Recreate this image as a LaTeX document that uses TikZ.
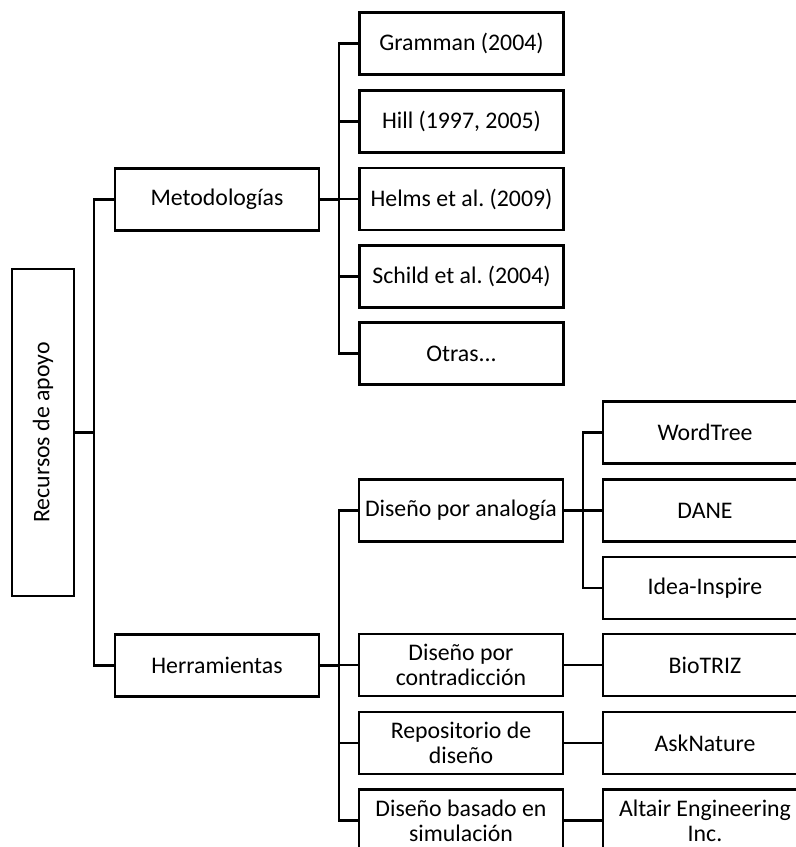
\documentclass[tikz,border=0pt]{standalone}
\usepackage{fontspec}
\usepackage{graphicx}
\setmainfont{Carlito}
\frenchspacing
\begin{document}
\begin{tikzpicture}[x=0.5pt,y=-0.5pt,
  box/.style={draw=black, line width=1.45pt, inner sep=0pt, align=center,
    font=\fontsize{11.9}{12.6}\selectfont, text=black, fill=white},
  wbox/.style={box, minimum width=102pt, minimum height=31pt},
  conn/.style={draw=black, line width=1.45pt}]
\path[use as bounding box] (0,0) rectangle (796,847);
\clip (0,0) rectangle (796,847);
% level 0
\node[box, minimum width=31pt, minimum height=163.5pt] (root) at (43,432.5) {\rotatebox{90}{Recursos de apoyo}};
% level 1
\node[wbox] (meto) at (217,199.5) {Metodologías};
\node[wbox] (herr) at (217,665.5) {Herramientas};
% methodologies
\node[wbox] (gramman) at (461.5,43.5) {Gramman (2004)};
\node[wbox] (hill) at (461.5,121.5) {Hill (1997, 2005)};
\node[wbox] (helms) at (461.5,199) {Helms et al. (2009)};
\node[wbox] (schild) at (461.5,276.5) {Schild et al. (2004)};
\node[wbox] (otras) at (461.5,353.5) {Otras...};
% tools
\node[wbox] (analog) at (461,510.5) {Diseño por analogía};
\node[wbox] (contra) at (461,665) {Diseño por\\contradicción};
\node[wbox] (repo) at (461,743) {Repositorio de\\diseño};
\node[wbox] (sim) at (461,820.5) {Diseño basado en\\simulación};
% right column
\node[wbox] (wordtree) at (705,432.5) {WordTree};
\node[wbox] (dane) at (705,510.5) {DANE};
\node[wbox] (idea) at (705,588) {Idea-Inspire};
\node[wbox] (biotriz) at (705,665) {BioTRIZ};
\node[wbox] (ask) at (705,743) {AskNature};
\node[wbox] (altair) at (705,820.5) {Altair Engineering\\Inc.};
% trunks
\coordinate (t1) at (94,432.5);
\coordinate (t2) at (339,199.5);
\coordinate (t3) at (339,665.5);
\coordinate (t4) at (583,510.5);
\draw[conn] (root.east) -- (t1);
\draw[conn] (meto.west) -| (t1) |- (herr.west);
\draw[conn] (meto.east) -- (t2);
\foreach \n in {gramman,hill,helms,schild,otras} \draw[conn] (t2) |- (\n.west);
\draw[conn] (herr.east) -- (t3);
\foreach \n in {analog,contra,repo,sim} \draw[conn] (t3) |- (\n.west);
\draw[conn] (analog.east) -- (t4);
\foreach \n in {wordtree,dane,idea} \draw[conn] (t4) |- (\n.west);
\draw[conn] (contra.east) -- (biotriz.west);
\draw[conn] (repo.east) -- (ask.west);
\draw[conn] (sim.east) -- (altair.west);
\end{tikzpicture}
\end{document}
